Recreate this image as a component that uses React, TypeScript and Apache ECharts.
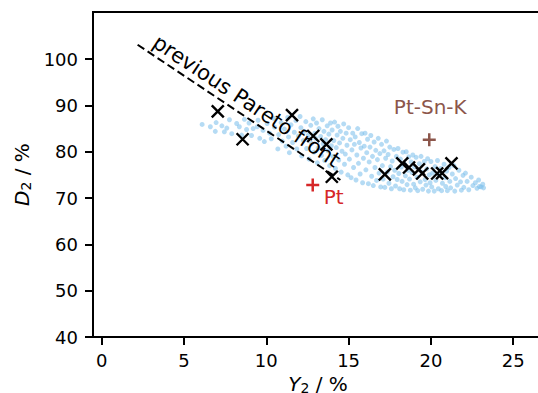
import React, { useEffect, useRef } from "react";
import * as echarts from "echarts";

const xTicks = [0, 5, 10, 15, 20, 25];
const yTicks = [40, 50, 60, 70, 80, 90, 100];

// light-blue cloud of candidate points
const cloudPoints: number[][] = [
  [6.1, 85.9], [6.6, 85.4], [6.95, 86.3], [6.9, 84.4],
  [7.3, 85.6], [7.45, 84.3], [7.76, 86.9], [7.6, 85.1], [7.9, 83.9],
  [8.2, 86.1], [8.36, 85.4], [8.5, 83.6], [8.67, 87.0], [8.8, 84.8], [8.95, 86.2],
  [9.1, 83.5], [9.2, 85.0], [9.45, 85.4], [9.5, 86.8], [9.6, 82.9], [9.8, 84.6], [9.88, 82.2],
  [10.05, 86.1], [10.2, 84.0], [10.3, 82.8], [10.45, 87.2], [10.5, 85.3], [10.7, 80.6], [10.75, 83.7], [10.9, 86.3], [10.97, 82.3],
  [11.1, 84.9], [11.2, 81.2], [11.3, 87.4], [11.35, 83.2], [11.4, 79.8], [11.5, 85.8], [11.6, 82.0], [11.7, 84.2], [11.8, 86.7], [11.85, 80.6], [11.95, 83.4],
  [12.05, 87.6], [12.1, 85.2], [12.15, 79.1], [12.25, 82.4], [12.3, 84.4], [12.4, 86.5], [12.45, 80.7], [12.55, 83.6], [12.6, 78.4], [12.7, 85.7], [12.75, 81.8], [12.85, 87.1], [12.9, 79.9], [12.95, 84.0],
  [13.0, 82.9], [13.05, 86.2], [13.1, 77.6], [13.15, 80.8], [13.2, 85.0], [13.3, 83.3], [13.35, 79.2], [13.4, 86.9], [13.45, 81.7], [13.5, 84.4], [13.55, 78.1], [13.6, 82.6], [13.7, 85.6], [13.75, 80.2], [13.8, 83.8], [13.85, 77.0], [13.9, 86.2], [13.95, 81.3],
  [14.0, 84.7], [14.05, 79.0], [14.1, 82.4], [14.15, 86.4], [14.2, 76.4], [14.25, 80.9], [14.3, 83.6], [14.35, 85.5], [14.4, 78.2], [14.45, 81.9], [14.5, 84.4], [14.55, 75.6], [14.6, 80.1], [14.65, 82.9], [14.7, 86.0], [14.75, 77.3], [14.8, 79.5], [14.85, 84.0], [14.9, 81.4], [14.95, 75.0],
  [15.0, 85.2], [15.05, 78.4], [15.1, 82.6], [15.15, 74.4], [15.2, 80.4], [15.25, 84.0], [15.3, 76.6], [15.35, 81.6], [15.4, 83.2], [15.45, 73.9], [15.5, 79.3], [15.55, 85.0], [15.6, 77.5], [15.65, 82.0], [15.7, 75.2], [15.75, 80.8], [15.8, 83.9], [15.85, 73.3], [15.9, 78.6], [15.95, 81.2],
  [16.0, 84.0], [16.05, 76.1], [16.1, 79.8], [16.15, 82.7], [16.2, 73.1], [16.25, 77.8], [16.3, 81.0], [16.35, 83.5], [16.4, 74.7], [16.45, 79.0], [16.5, 72.7], [16.55, 82.1], [16.6, 76.6], [16.65, 80.3], [16.7, 73.8], [16.75, 78.3], [16.8, 82.9], [16.85, 75.4], [16.9, 79.6], [16.95, 72.4],
  [17.0, 81.6], [17.05, 77.0], [17.1, 74.1], [17.15, 80.2], [17.2, 72.3], [17.25, 78.6], [17.3, 82.3], [17.35, 75.6], [17.4, 79.4], [17.45, 73.2], [17.5, 81.0], [17.55, 76.8], [17.6, 72.0], [17.65, 78.0], [17.7, 74.6], [17.75, 80.5], [17.8, 76.0], [17.85, 72.6], [17.9, 79.0], [17.95, 74.0],
  [18.0, 80.7], [18.05, 75.3], [18.1, 72.0], [18.15, 78.4], [18.2, 76.7], [18.25, 73.6], [18.3, 79.9], [18.35, 71.8], [18.4, 77.3], [18.45, 74.8], [18.5, 80.0], [18.55, 72.9], [18.6, 76.0], [18.65, 78.9], [18.7, 74.1], [18.75, 71.7], [18.8, 77.8], [18.85, 75.5], [18.9, 79.3], [18.95, 73.0],
  [19.0, 76.7], [19.05, 72.2], [19.1, 78.8], [19.15, 74.5], [19.2, 71.6], [19.3, 77.4], [19.35, 73.5], [19.4, 79.0], [19.45, 75.6], [19.5, 71.9], [19.6, 77.9], [19.65, 74.0], [19.7, 72.8], [19.75, 76.3], [19.8, 78.5], [19.85, 71.5], [19.9, 75.0], [19.95, 73.3],
  [20.0, 77.9], [20.05, 72.4], [20.1, 75.4], [20.2, 71.5], [20.25, 76.8], [20.3, 73.8], [20.4, 78.1], [20.45, 72.0], [20.5, 74.9], [20.6, 76.4], [20.65, 71.6], [20.7, 73.2], [20.8, 77.3], [20.85, 74.4], [20.9, 72.5], [20.95, 75.8],
  [21.0, 71.6], [21.1, 76.6], [21.15, 73.6], [21.2, 72.2], [21.3, 75.2], [21.4, 77.0], [21.45, 71.5], [21.5, 74.2], [21.6, 72.8], [21.7, 76.0], [21.8, 73.5], [21.85, 71.7], [21.95, 74.9],
  [22.0, 72.3], [22.1, 75.4], [22.2, 73.6], [22.3, 71.8], [22.45, 74.5], [22.55, 72.7], [22.7, 73.3], [22.8, 72.1], [22.9, 73.9], [22.95, 72.5],
  [23.05, 72.4], [23.15, 73.0], [23.2, 72.2],
];

// black "x" markers
const crossX = [7.05, 8.56, 11.56, 12.85, 13.65, 13.98, 17.2, 18.26, 18.67, 19.27, 19.47, 20.38, 20.68, 21.25];
const crossY = [88.7, 82.7, 87.9, 83.4, 81.6, 74.6, 75.1, 77.5, 76.6, 76.2, 75.3, 75.3, 75.4, 77.5];

const ptPoint = [12.82, 72.8];
const ptLabel = "Pt";
const ptSnKPoint = [19.9, 82.6];
const ptSnKLabel = "Pt-Sn-K";

const paretoFront = [
  [2.18, 103.1],
  [14.5, 73.9],
];
const paretoLabel = "previous Pareto front";

const FONT = "DejaVu Sans";

export default function App() {
  const ref = useRef<HTMLDivElement>(null);

  useEffect(() => {
    document.body.style.margin = "0";
    if (!ref.current) return;
    const chart = echarts.init(ref.current, null, { renderer: "svg" });

    const crossPath = "path://M0,0L10,10M0,10L10,0";
    const plusPath = "path://M5,0L5,10M0,5L10,5";

    const nameRich = {
      i: { fontStyle: "italic", fontSize: 20, fontFamily: FONT, color: "#000", lineHeight: 22 },
      s: { fontSize: 14, fontFamily: FONT, color: "#000", lineHeight: 22, verticalAlign: "bottom" },
      n: { fontSize: 20, fontFamily: FONT, color: "#000", lineHeight: 22 },
    };

    chart.setOption({
      animation: false,
      backgroundColor: "#fff",
      textStyle: { fontFamily: FONT },
      grid: {
        left: 93,
        top: 12,
        width: 450,
        height: 325,
        containLabel: false,
        outerBoundsMode: "none",
        show: true,
        borderColor: "#000",
        borderWidth: 2,
        backgroundColor: "transparent",
      },
      xAxis: {
        type: "value",
        min: -0.53,
        max: 26.81,
        splitLine: { show: false },
        axisLine: { show: true, onZero: false, lineStyle: { color: "#000", width: 2 } },
        axisTick: { show: true, customValues: xTicks, length: 8, lineStyle: { color: "#000", width: 2 } },
        axisLabel: { customValues: xTicks, color: "#000", fontSize: 18, fontFamily: FONT, margin: 14 },
        name: "{i|Y}{s|2}{n| / %}",
        nameLocation: "middle",
        nameGap: 31,
        nameTextStyle: { color: "#000", rich: nameRich },
      },
      yAxis: {
        type: "value",
        min: 40,
        max: 110.17,
        splitLine: { show: false },
        axisLine: { show: true, onZero: false, lineStyle: { color: "#000", width: 2 } },
        axisTick: { show: true, customValues: yTicks, length: 8, lineStyle: { color: "#000", width: 2 } },
        axisLabel: { customValues: yTicks, color: "#000", fontSize: 18, fontFamily: FONT, margin: 15 },
        name: "{i|D}{s|2}{n| / %}",
        nameLocation: "middle",
        nameGap: 56,
        nameRotate: 90,
        nameTextStyle: { color: "#000", rich: nameRich },
      },
      series: [
        {
          type: "scatter",
          name: "cloud",
          data: cloudPoints,
          symbol: "circle",
          symbolSize: 5,
          itemStyle: { color: "rgba(120,190,235,0.55)", opacity: 1 },
          z: 1,
        },
        {
          type: "line",
          name: "pareto",
          data: paretoFront,
          showSymbol: false,
          symbol: "none",
          lineStyle: { color: "#000", width: 2, type: [8, 4], cap: "butt", opacity: 1 },
          z: 2,
        },
        {
          type: "scatter",
          name: "crosses",
          data: crossX.map((x, i) => [x, crossY[i]]),
          symbol: crossPath,
          symbolSize: 12,
          itemStyle: { color: "rgba(0,0,0,0)", borderColor: "#000", borderWidth: 2.4, opacity: 1 },
          z: 3,
        },
        {
          type: "scatter",
          name: ptLabel,
          data: [ptPoint],
          symbol: plusPath,
          symbolSize: 13,
          itemStyle: { color: "rgba(0,0,0,0)", borderColor: "#d62728", borderWidth: 2.5, opacity: 1 },
          label: {
            show: true,
            formatter: ptLabel,
            position: "inside",
            offset: [21, 12],
            color: "#d62728",
            fontSize: 20,
            fontFamily: FONT,
          },
          z: 4,
        },
        {
          type: "scatter",
          name: ptSnKLabel,
          data: [ptSnKPoint],
          symbol: plusPath,
          symbolSize: 13,
          itemStyle: { color: "rgba(0,0,0,0)", borderColor: "#8c564b", borderWidth: 2.5, opacity: 1 },
          label: {
            show: true,
            formatter: ptSnKLabel,
            position: "inside",
            offset: [1, -33],
            color: "#8c564b",
            fontSize: 20,
            fontFamily: FONT,
          },
          z: 4,
        },
      ],
    });

    // rotated label along the previous Pareto front line
    const p0 = chart.convertToPixel({ gridIndex: 0 }, paretoFront[0]) as number[];
    const p1 = chart.convertToPixel({ gridIndex: 0 }, paretoFront[1]) as number[];
    const dx = p1[0] - p0[0];
    const dy = p1[1] - p0[1];
    const len = Math.sqrt(dx * dx + dy * dy);
    const ux = dx / len;
    const uy = dy / len;
    const nx = uy;
    const ny = -ux;
    const along = len * 0.5;
    const off = 3;
    chart.setOption({
      graphic: [
        {
          type: "text",
          x: p0[0] + ux * along + nx * off,
          y: p0[1] + uy * along + ny * off,
          rotation: -Math.atan2(dy, dx),
          z: 10,
          style: {
            text: paretoLabel,
            fill: "#000",
            fontSize: 21,
            fontFamily: FONT,
            align: "center",
            verticalAlign: "bottom",
          },
        },
      ],
    });

    return () => chart.dispose();
  }, []);

  return (
    <div
      ref={ref}
      style={{ position: "absolute", left: 0, top: 0, width: 538, height: 393 }}
    />
  );
}
